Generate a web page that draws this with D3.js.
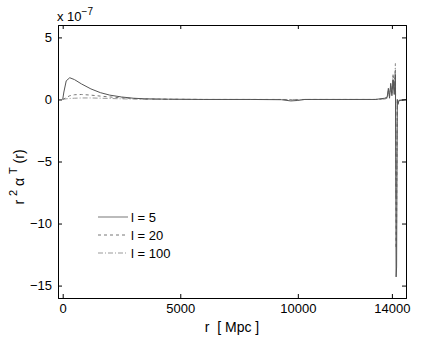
<!DOCTYPE html>
<html>
<head>
<meta charset="utf-8">
<script src="https://cdn.jsdelivr.net/npm/d3@7"></script>
<style>
  body { margin: 0; background: #fff; }
  svg { font-family: "Liberation Sans", Helvetica, Arial, sans-serif; }
  text { white-space: pre; }
</style>
</head>
<body>
<div id="chart"></div>
<script>
// radius grid [Mpc] and r^2 alpha_T(r) in units of 1e-7
const rGrid = [0, 50, 150, 300, 500, 800, 1200, 1600, 2000, 2500, 3000, 3500, 4500, 6000, 8000,
  9300, 9700, 10000, 10300, 12000, 13300, 13700, 13800, 13850, 13900, 13950, 14000, 14050,
  14100, 14150, 14180, 14200, 14230, 14260, 14300, 14600]
const l5 = [0, 0.6, 1.5, 1.75, 1.6, 1.25, 0.85, 0.55, 0.35, 0.2, 0.1, 0.05, 0.02, 0, 0,
  -0.02, -0.12, -0.08, 0, 0, 0, 0.1, 0.2, 0.9, 0.1, 1.3, 0.3, 1.6, 0.4, 2.0,
  -14.3, -13.5, 0.0, -0.4, -0.1, 0]
const l20 = [0, 0.05, 0.15, 0.3, 0.38, 0.4, 0.35, 0.27, 0.2, 0.13, 0.08, 0.04, 0.02, 0, 0,
  0, -0.03, -0.02, 0, 0, 0, 0.05, 0.15, 0.7, 0.3, 1.1, 0.5, 1.9, 0.6, 2.5,
  -12.0, -10.0, 0.0, -0.3, -0.1, 0]
const l100 = [0, 0.02, 0.05, 0.08, 0.1, 0.12, 0.12, 0.1, 0.08, 0.05, 0.03, 0.02, 0.01, 0, 0,
  0, 0, 0, 0, 0, 0, 0.03, 0.1, 0.5, 0.4, 1.0, 0.6, 2.0, 0.8, 2.9,
  -8.0, -6.0, 0.0, -0.2, -0.05, 0]
const xTicks = [0, 5000, 10000, 14000]
const yTicks = [-15, -10, -5, 0, 5]
const seriesNames = ['l = 5', 'l = 20', 'l = 100']

const width = 448, height = 337
const margin = { left: 58, right: 42, top: 25, bottom: 39 }

const svg = d3.select('#chart').append('svg')
  .attr('width', width).attr('height', height)
  .attr('xmlns', 'http://www.w3.org/2000/svg')

const x = d3.scaleLinear().domain([-200, 14600]).range([margin.left, width - margin.right])
const y = d3.scaleLinear().domain([-16, 6]).range([height - margin.bottom, margin.top])

const series = [
  { name: seriesNames[0], values: l5, color: '#555', dash: null },
  { name: seriesNames[1], values: l20, color: '#777', dash: '3,3' },
  { name: seriesNames[2], values: l100, color: '#999', dash: '5,2,1,2' }
]

const line = d3.line().x((d, i) => x(rGrid[i])).y(d => y(d))

// draw l=100 first so l=5 ends on top
series.slice().reverse().forEach(s => {
  svg.append('path')
    .attr('d', line(s.values))
    .attr('fill', 'none')
    .attr('stroke', s.color)
    .attr('stroke-width', 1)
    .attr('stroke-dasharray', s.dash)
})

// axes: box with inward ticks on all sides
const tickLen = 4
const fontSize = 13
svg.append('g').attr('transform', `translate(0,${y(-16)})`)
  .call(d3.axisBottom(x).tickValues(xTicks).tickSize(-tickLen).tickPadding(6).tickFormat(d3.format('d')))
svg.append('g').attr('transform', `translate(0,${y(6)})`)
  .call(d3.axisTop(x).tickValues(xTicks).tickSize(-tickLen).tickFormat(''))
svg.append('g').attr('transform', `translate(${x(-200)},0)`)
  .call(d3.axisLeft(y).tickValues(yTicks).tickSize(-tickLen).tickPadding(6).tickFormat(d => d < 0 ? '\u2212' + Math.abs(d) : d))
svg.append('g').attr('transform', `translate(${x(14600)},0)`)
  .call(d3.axisRight(y).tickValues(yTicks).tickSize(-tickLen).tickFormat(''))

svg.selectAll('.domain').attr('stroke', '#000').attr('stroke-width', 1)
svg.selectAll('.tick line').attr('stroke', '#000')
svg.selectAll('.tick text').attr('font-size', fontSize).attr('fill', '#000')
  .style('font-family', '"Liberation Sans", Helvetica, Arial, sans-serif')

// exponent label
const exp = svg.append('text').attr('x', 57).attr('y', 21).attr('font-size', fontSize)
exp.append('tspan').text('x 10')
exp.append('tspan').attr('dy', -6).attr('font-size', 10).text('\u22127')

// axis titles
svg.append('text')
  .attr('x', 232).attr('y', 332)
  .attr('text-anchor', 'middle').attr('font-size', 14)
  .text('r  [ Mpc ]')

const yl = svg.append('text')
  .attr('transform', 'translate(24,177) rotate(-90)')
  .attr('text-anchor', 'middle').attr('font-size', 14)
yl.append('tspan').text('r ')
yl.append('tspan').attr('dy', -7).attr('font-size', 11).text('2')
yl.append('tspan').attr('dy', 7).text(' \u03b1 ')
yl.append('tspan').attr('dy', -7).attr('font-size', 11).text('T')
yl.append('tspan').attr('dy', 7).text(' (r)')

// legend
const legend = svg.append('g').attr('transform', 'translate(98,217)')
series.forEach((s, i) => {
  const g = legend.append('g').attr('transform', `translate(0,${i * 18})`)
  g.append('line').attr('x1', 0).attr('x2', 30).attr('y1', 0).attr('y2', 0)
    .attr('stroke', i === 0 ? '#bbb' : s.color)
    .attr('stroke-width', i === 0 ? 2 : 1)
    .attr('stroke-dasharray', s.dash)
  g.append('text').attr('x', 33).attr('y', 5).attr('font-size', fontSize).text(s.name)
})
</script>
</body>
</html>
